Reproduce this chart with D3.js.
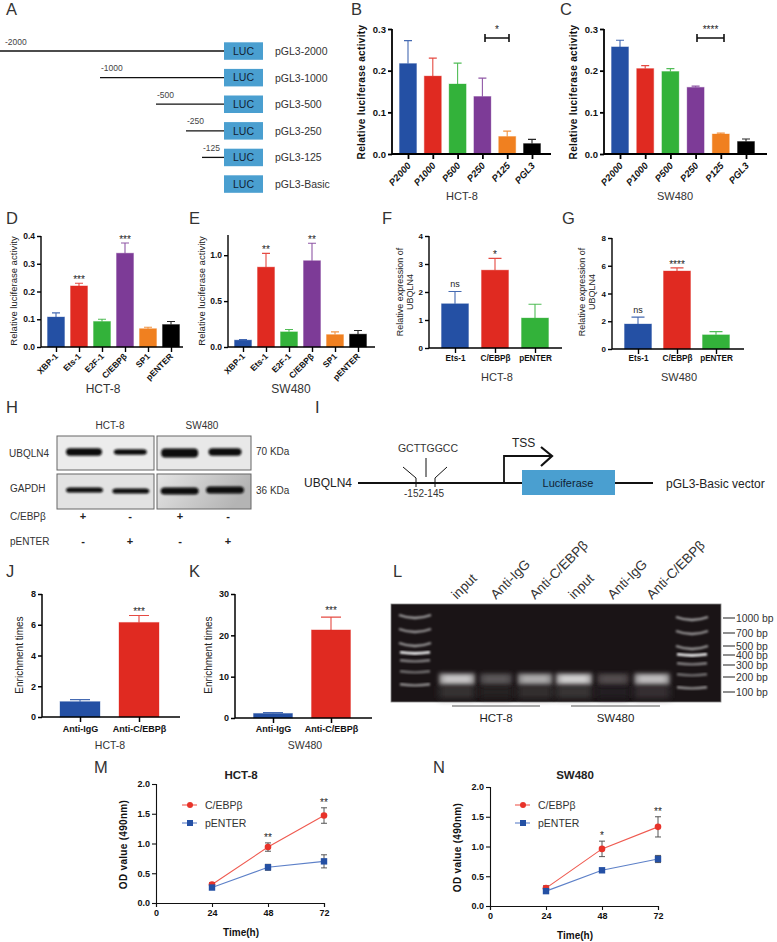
<!DOCTYPE html>
<html><head><meta charset="utf-8">
<script src="https://cdnjs.cloudflare.com/ajax/libs/d3/7.8.5/d3.min.js"></script>
<style>html,body{margin:0;padding:0;background:#fff}svg{display:block}text{font-family:"Liberation Sans",Arial,sans-serif}</style>
</head><body><div id="c"></div>
<script>
// ---- data ----
const promoterNames = ["pGL3-2000","pGL3-1000","pGL3-500","pGL3-250","pGL3-125","pGL3-Basic"];
const promoterLabels = ["-2000","-1000","-500","-250","-125",""];
const promoterLengths = [2000,1000,500,250,125,0];

const catsLuc = ["P2000","P1000","P500","P250","P125","PGL3"];
const bValues = [0.217,0.187,0.168,0.138,0.042,0.025];
const bTops   = [0.272,0.230,0.218,0.182,0.055,0.035];
const cValues = [0.257,0.205,0.198,0.160,0.048,0.030];
const cTops   = [0.273,0.212,0.205,0.163,0.050,0.036];

const catsTF = ["XBP-1","Ets-1","E2F-1","C/EBPβ","SP1","pENTER"];
const dValues = [0.108,0.220,0.092,0.338,0.066,0.081];
const dTops   = [0.123,0.230,0.100,0.375,0.071,0.092];
const dSig    = ["","***","","***","",""];
const eValues = [0.075,0.870,0.165,0.940,0.135,0.140];
const eTops   = [0.080,1.020,0.190,1.130,0.165,0.180];
const eSig    = ["","**","","**","",""];

const catsExpr = ["Ets-1","C/EBPβ","pENTER"];
const fValues = [1.58,2.78,1.07];
const fTops   = [2.02,3.20,1.56];
const fSig    = ["ns","*",""];
const gValues = [1.80,5.62,1.02];
const gTops   = [2.30,5.85,1.25];
const gSig    = ["ns","****",""];

const catsChip = ["Anti-IgG","Anti-C/EBPβ"];
const jValues = [1.0,6.15];
const jTops   = [1.13,6.60];
const kValues = [1.1,21.3];
const kTops   = [1.3,24.4];
const chipSig = ["","***"];

const barColors = ["#2450a4","#e02a21","#33b23a","#7d3b97","#f08020","#000000"];
const exprColors = ["#2450a4","#e02a21","#33b23a"];
const chipColors = ["#2450a4","#e02a21"];

const blotLanes = ["HCT-8 C/EBPβ","HCT-8 pENTER","SW480 C/EBPβ","SW480 pENTER"];
const ubqlnStrength = [0.85,0.62,1.00,0.85];
const gapdhStrength = [0.60,0.60,1.00,1.00];
const blotCebpb  = ["+","-","+","-"];
const blotPenter = ["-","+","-","+"];

const gelLanes = ["input","Anti-IgG","Anti-C/EBPβ","input","Anti-IgG","Anti-C/EBPβ"];
const gelBrightness = [0.95,0.36,0.80,1.0,0.30,0.90];
const ladderBp = [1000,700,500,400,300,200,100];
const ladderBrightness = [0.62,0.58,0.60,1.0,0.50,0.42,0.55];

const timePoints = [24,48,72];
const mCebpb = [0.31,0.94,1.47];
const mCebpbErr = [0.03,0.07,0.13];
const mPenter = [0.26,0.60,0.70];
const mPenterErr = [0.02,0.05,0.11];
const mSig = ["","**","**"];
const nCebpb = [0.30,0.96,1.33];
const nCebpbErr = [0.04,0.13,0.17];
const nPenter = [0.25,0.60,0.79];
const nPenterErr = [0.02,0.02,0.06];
const nSig = ["","*","**"];

// ---- canvas ----
const W=777,H=942;
const svg=d3.select("#c").append("svg").attr("width",W).attr("height",H).attr("viewBox",`0 0 ${W} ${H}`);
svg.append("rect").attr("width",W).attr("height",H).attr("fill","#fff");
const defs=svg.append("defs");
[["blur1",1.3],["blur2",2.2],["blur3",0.9],["blurS",0.8],["blurW",3.5]].forEach(([id,s])=>{
  defs.append("filter").attr("id",id).attr("x","-30%").attr("y","-150%").attr("width","160%").attr("height","400%")
    .append("feGaussianBlur").attr("stdDeviation",s);
});
const grad=defs.append("linearGradient").attr("id","blotGrad").attr("x1","0").attr("y1","0").attr("x2","1").attr("y2","0.3");
grad.append("stop").attr("offset","0").attr("stop-color","#e4e4e4");
grad.append("stop").attr("offset","1").attr("stop-color","#b4b4b4");
const root=svg.append("g");

function label(txt,x,y,o={}){
  const t=root.append("text").attr("x",x).attr("y",y).text(txt)
    .attr("font-size",o.size||11).attr("fill",o.fill||"#2a2a2a")
    .attr("text-anchor",o.anchor||"start");
  if(o.weight)t.attr("font-weight",o.weight);
  if(o.style)t.attr("font-style",o.style);
  if(o.rotate!==undefined)t.attr("transform",`rotate(${o.rotate} ${x} ${y})`);
  if(o.spacing)t.attr("letter-spacing",o.spacing);
  return t;
}

// panel letters
[["A",6,15],["B",351,15],["C",560,15],["D",6,224],["E",189,224],["F",382,224],["G",562,224],
 ["H",6,413],["I",315,413],["J",6,577],["K",189,577],["L",393,577],["M",94,773],["N",433,773]]
 .forEach(([s,x,y])=>label(s,x,y,{size:16.5,fill:"#333"}));

// ---- bar panels ----
function barPanel(cfg){
  const g=root.append("g");
  const x=d3.scalePoint().domain(cfg.cats).range(cfg.centers);
  const y=d3.scaleLinear().domain(cfg.domain).range([cfg.y0,cfg.y1]);
  const rows=cfg.cats.map((c,i)=>({c,v:cfg.values[i],t:cfg.tops[i],col:cfg.colors[i],s:cfg.sig?cfg.sig[i]:""}));
  g.selectAll("rect.bar").data(rows).join("rect").attr("class","bar")
    .attr("x",d=>x(d.c)-cfg.bw/2).attr("width",cfg.bw)
    .attr("y",d=>y(d.v)).attr("height",d=>y(0)-y(d.v)).attr("fill",d=>d.col)
    .attr("stroke",d=>d.col).attr("stroke-opacity",.35).attr("stroke-width",1);
  g.selectAll("path.err").data(rows).join("path").attr("class","err")
    .attr("d",d=>`M${x(d.c)},${y(d.v)}V${y(d.t)}M${x(d.c)-cfg.cap/2},${y(d.t)}H${x(d.c)+cfg.cap/2}`)
    .attr("stroke",d=>d.col).attr("stroke-width",1.1).attr("fill","none").attr("stroke-opacity",.85);
  const ya=d3.axisLeft(y).tickValues(cfg.ticks).tickFormat(cfg.fmt).tickSize(cfg.tick||4).tickPadding(2);
  const ag=g.append("g").attr("transform",`translate(${cfg.axisX},0)`).call(ya);
  ag.select(".domain").attr("stroke","#000").attr("stroke-width",cfg.sw||1.6).attr("d",`M0,${y(cfg.domain[1])}V${cfg.y0}`);
  ag.selectAll(".tick line").attr("stroke","#000").attr("stroke-width",cfg.sw||1.6);
  ag.selectAll("text").attr("font-size",cfg.tickSize||9.5).attr("font-weight","bold").attr("fill","#111");
  const xa=d3.axisBottom(x).tickSize(5).tickPadding(3);
  const bx=g.append("g").attr("transform",`translate(0,${cfg.y0})`).call(xa);
  bx.select(".domain").attr("stroke","#000").attr("stroke-width",cfg.sw||1.6).attr("d",`M${cfg.axisX},0H${cfg.axisEnd}`);
  bx.selectAll(".tick line").attr("stroke","#000").attr("stroke-width",cfg.sw||1.6);
  const xt=bx.selectAll("text").attr("font-size",cfg.catSize||8).attr("font-weight","bold").attr("fill","#111");
  if(cfg.catStyle)xt.attr("font-style",cfg.catStyle);
  if(cfg.catRot){
    xt.attr("text-anchor","end").attr("dy",0).attr("y",0)
      .attr("transform",`translate(${cfg.catDx===undefined?4:cfg.catDx},${cfg.catDy||9}) rotate(${cfg.catRot})`);
  }else{ xt.attr("y",cfg.catDy||10).attr("dy","0.7em"); }
  // significance
  g.selectAll("text.sig").data(rows.filter(d=>d.s)).join("text").attr("class","sig")
    .attr("x",d=>x(d.c)).attr("y",d=>y(d.t)-(d.s==="ns"?4:(cfg.sigGap||0)))
    .attr("text-anchor","middle").attr("font-size",d=>d.s==="ns"?9:10).attr("fill","#222").text(d=>d.s);
  // y title
  cfg.title.forEach((t,i)=>{
    const tx=cfg.titleX+i*10;
    const el=g.append("text").attr("transform",`translate(${tx},${cfg.titleY}) rotate(-90)`).attr("text-anchor","middle")
      .attr("font-size",cfg.titleSize||9.5).attr("fill","#222").text(t);
    if(cfg.titleBold)el.attr("font-weight","bold").attr("fill","#111");
    if(cfg.titleSpacing)el.attr("letter-spacing",cfg.titleSpacing);
  });
  return {x,y};
}
const f1=d3.format(".1f"),f0=d3.format("d");

barPanel({cats:catsLuc,values:bValues,tops:bTops,colors:barColors,centers:[408,532],bw:17,cap:8,domain:[0,0.3],y0:154,y1:29,ticks:[0,.1,.2,.3],fmt:f1,axisX:392,axisEnd:551,catRot:-48,catStyle:"italic",catSize:9.5,catDy:12,catDx:3,title:["Relative luciferase activity"],titleX:365,titleY:92,titleBold:true,titleSize:10,titleSpacing:.35,sw:1.8,tickSize:9.5});
barPanel({cats:catsLuc,values:cValues,tops:cTops,colors:barColors,centers:[620,746],bw:17,cap:8,domain:[0,0.3],y0:154,y1:29,ticks:[0,.1,.2,.3],fmt:f1,axisX:604,axisEnd:767,catRot:-48,catStyle:"italic",catSize:9.5,catDy:12,catDx:3,title:["Relative luciferase activity"],titleX:577,titleY:92,titleBold:true,titleSize:10,titleSpacing:.35,sw:1.8,tickSize:9.5});
[[485,509,"*"],[697,724,"****"]].forEach(([a,b,s])=>{
  root.append("path").attr("d",`M${a},38H${b}M${a},34V42M${b},34V42`).attr("stroke","#111").attr("stroke-width",1.6).attr("fill","none");
  label(s,(a+b)/2,33,{size:10,anchor:"middle",fill:"#222"});
});
label("HCT-8",462,200,{size:11,anchor:"middle",fill:"#333"});
label("SW480",675,200,{size:11,anchor:"middle",fill:"#333"});

barPanel({cats:catsTF,values:dValues,tops:dTops,sig:dSig,colors:barColors,centers:[56,171],bw:17,cap:8,domain:[0,0.4],y0:347,y1:236,ticks:[0,.1,.2,.3,.4],fmt:f1,axisX:41,axisEnd:183,catRot:-45,catSize:8.5,catDy:10,catDx:2,title:["Relative luciferase activity"],titleX:17,titleY:291,sw:1.4,tickSize:8.5});
barPanel({cats:catsTF,values:eValues,tops:eTops,sig:eSig,colors:barColors,centers:[243,358],bw:17,cap:8,domain:[0,1.22],y0:347,y1:235,ticks:[0,.5,1],fmt:f1,axisX:228,axisEnd:375,catRot:-45,catSize:8.5,catDy:10,catDx:2,title:["Relative luciferase activity"],titleX:205,titleY:291,sw:1.4,tickSize:8.5});
barPanel({cats:catsExpr,values:fValues,tops:fTops,sig:fSig,colors:exprColors,centers:[455,535],bw:27,cap:13,domain:[0,4],y0:348,y1:236,ticks:[0,1,2,3,4],fmt:f0,axisX:429,axisEnd:562,catSize:8.2,catDy:7,title:["Relative expression of","UBQLN4"],titleX:403,titleY:292,titleSize:9,sw:1.4,tickSize:8});
barPanel({cats:catsExpr,values:gValues,tops:gTops,sig:gSig,colors:exprColors,centers:[638,716],bw:27,cap:13,domain:[0,8],y0:349,y1:238,ticks:[0,2,4,6,8],fmt:f0,axisX:612,axisEnd:744,catSize:8.2,catDy:6,title:["Relative expression of","UBQLN4"],titleX:585,titleY:292,titleSize:9,sw:1.4,tickSize:8});
[["HCT-8",497],["SW480",679]].forEach(([s,x])=>label(s,x,381,{size:11,anchor:"middle",fill:"#333"}));
[["HCT-8",103],["SW480",291]].forEach(([s,x])=>label(s,x,393,{size:12,anchor:"middle",fill:"#333"}));

barPanel({cats:catsChip,values:jValues,tops:jTops,sig:chipSig,colors:chipColors,centers:[80,139],bw:40,cap:20,domain:[0,8],y0:717,y1:594,ticks:[0,2,4,6,8],fmt:f0,axisX:42,axisEnd:180,catSize:9,catDy:9,title:["Enrichment times"],titleX:23,titleY:655,titleSize:10,sigGap:1,sw:1.5,tickSize:9});
barPanel({cats:catsChip,values:kValues,tops:kTops,sig:chipSig,colors:chipColors,centers:[273,331],bw:39,cap:20,domain:[0,30],y0:718,y1:594,ticks:[0,10,20,30],fmt:f0,axisX:235,axisEnd:372,catSize:9,catDy:8,title:["Enrichment times"],titleX:212,titleY:655,titleSize:10,sigGap:3,sw:1.5,tickSize:9});
[["HCT-8",110],["SW480",305]].forEach(([s,x])=>label(s,x,749,{size:10.5,anchor:"middle",fill:"#333"}));

// ---- A schematic ----
const rowY=d3.scalePoint().domain(promoterNames).range([51,184]);
const lenPos=d3.scaleLinear().domain([0,125,250,500,1000,2000]).range([224,202,186,156,100,0]);
const luc="#4a9fd0";
promoterNames.forEach((n,i)=>{
  const y=rowY(n);
  if(promoterLengths[i]>0){
    root.append("line").attr("x1",lenPos(promoterLengths[i])).attr("x2",224).attr("y1",y).attr("y2",y).attr("stroke","#111").attr("stroke-width",1.3);
    label(promoterLabels[i],lenPos(promoterLengths[i])+(i===0?5:1),y-6.5,{size:8.5,fill:"#444"});
  }
  root.append("rect").attr("x",224).attr("width",39).attr("y",y-8.7).attr("height",17.5).attr("fill",luc);
  label("LUC",243.5,y+3.8,{size:10.5,anchor:"middle",fill:"#123"});
  label(n,275,y+4,{size:10.5,fill:"#333"});
});

// ---- H blot ----
const blotCols=[[57,154],[157,251]];
const blotRows=[{y:[436,470],bg:["#ececec","#e8e8e8"]},{y:[474,509],bg:["#e2e2e2","url(#blotGrad)"]}];
blotRows.forEach(r=>blotCols.forEach((c,j)=>{
  root.append("rect").attr("x",c[0]).attr("y",r.y[0]).attr("width",c[1]-c[0]).attr("height",r.y[1]-r.y[0])
    .attr("fill",r.bg[j]).attr("stroke","#666").attr("stroke-width",1);
}));
const laneX=d3.scalePoint().domain(blotLanes).range([84,226]);
const bandOffset=[0,-1,1,-1];
const bandW=[36,33,37,33];
const bandY1=[452,452,453,452], bandY2=[490,491,491,490];
const signX=[83,130,180,228];
blotLanes.forEach((l,i)=>{
  const cx=laneX(l)+bandOffset[i];
  const h1=1.5+ubqlnStrength[i]*ubqlnStrength[i]*3;
  root.append("rect").attr("x",cx-bandW[i]/2).attr("width",bandW[i]).attr("y",bandY1[i]-h1).attr("height",2*h1)
    .attr("rx",4).attr("fill","#0d0d0d").attr("filter","url(#blurS)");
  const h2=1.3+gapdhStrength[i]*2.2;
  root.append("rect").attr("x",cx-(i<2?18:19)).attr("width",i<2?37:38).attr("y",bandY2[i]-h2).attr("height",2*h2)
    .attr("rx",4).attr("fill","#0d0d0d").attr("filter","url(#blurS)");
  label(blotCebpb[i],signX[i],520,{size:11,anchor:"middle",weight:"bold",fill:"#222"});
  label(blotPenter[i],signX[i],545,{size:11,anchor:"middle",weight:"bold",fill:"#222"});
});
label("HCT-8",110,429,{size:10,anchor:"middle",fill:"#333"});
label("SW480",202,429,{size:10,anchor:"middle",fill:"#333"});
label("UBQLN4",9,457,{size:10,fill:"#333"});
label("GAPDH",10,492,{size:10,fill:"#333"});
label("70 KDa",256,455,{size:10,fill:"#333"});
label("36 KDa",256,494,{size:10,fill:"#333"});
label("C/EBPβ",10,520,{size:10,fill:"#333"});
label("pENTER",10,545,{size:10,fill:"#333"});

// ---- I schematic ----
const iLine=(d,w)=>root.append("path").attr("d",d).attr("fill","none").attr("stroke","#111").attr("stroke-width",w);
iLine("M358,483H653",1.8);
root.append("rect").attr("x",522).attr("y",470).attr("width",93).attr("height",25).attr("fill",luc);
iLine("M504,483V456H552",1.8);
iLine("M541,447L552,456L541,466",2.2);
iLine("M403,467L416,478V487",1);
iLine("M447,467L435,478V487",1);
iLine("M426,458V477",1);
label("Luciferase",568,487,{size:11,anchor:"middle",fill:"#123"});
label("TSS",512,447,{size:12,fill:"#222"});
label("GCTTGGCC",428,452,{size:10.5,anchor:"middle",fill:"#333"});
label("-152-145",424,497,{size:10,anchor:"middle",fill:"#333"});
label("UBQLN4",304,487,{size:12,fill:"#222"});
label("pGL3-Basic vector",666,488,{size:12,fill:"#222"});

// ---- L gel ----
const gelBg="#1a1416";
const gelX=d3.scalePoint().domain(d3.range(6)).range([457,652]);
const gel=root.append("g");
gel.append("rect").attr("x",391).attr("y",604).attr("width",330).attr("height",98).attr("fill",gelBg).attr("stroke","#888").attr("stroke-width",.8);
const ladL=d3.scaleLinear().domain(ladderBp).range([617,631,645,653,661,672,685]);
const ladR=d3.scaleLinear().domain(ladderBp).range([619,633,648,655,664,675,688]);
[[415,ladL],[692,ladR]].forEach(([cx,s])=>{
  ladderBp.forEach((bp,i)=>{
    const b=ladderBrightness[i],y=s(bp),hw=i<3?16:15,cv=i<3?4:1.5;
    gel.append("path").attr("d",`M${cx-hw},${y-cv/2}Q${cx},${y+cv} ${cx+hw},${y-cv/2}`)
      .attr("fill","none").attr("stroke",d3.interpolateRgb(gelBg,"#f6f6f6")(b)).attr("stroke-width",i===3?2.6:2.4).attr("filter","url(#blurS)");
  });
});
gelLanes.forEach((l,i)=>{
  const b=gelBrightness[i],cx=gelX(i),w=15+b*3;
  gel.append("rect").attr("x",cx-w).attr("width",2*w).attr("y",686).attr("height",12).attr("fill",d3.interpolateRgb(gelBg,"#777")(b*.35)).attr("filter","url(#blurW)");
  gel.append("rect").attr("x",cx-w).attr("width",2*w).attr("y",673.5).attr("height",11).attr("fill",d3.interpolateRgb(gelBg,"#dcdcdc")(b*.75)).attr("filter","url(#blur2)");
  gel.append("rect").attr("x",cx-w+5).attr("width",2*w-10).attr("y",676.5).attr("height",5).attr("fill",d3.interpolateRgb(gelBg,"#f4f4f4")(b*.88)).attr("filter","url(#blur2)");
  label(l,cx,600,{size:13.5,fill:"#333",rotate:-45});
});
const ladderY=d3.scaleLinear().domain(ladderBp).range([618,633,646,655,665,677,692]);
ladderBp.forEach(bp=>{
  root.append("line").attr("x1",723).attr("x2",735).attr("y1",ladderY(bp)).attr("y2",ladderY(bp)).attr("stroke","#333").attr("stroke-width",1.1);
  label(bp+" bp",736,ladderY(bp)+3.5,{size:10.4,fill:"#333"});
});
[[452,540,"HCT-8"],[571,660,"SW480"]].forEach(([a,b,s])=>{
  root.append("line").attr("x1",a).attr("x2",b).attr("y1",706).attr("y2",706).attr("stroke","#555").attr("stroke-width",1.2);
  label(s,(a+b)/2,722,{size:11.5,anchor:"middle",fill:"#222"});
});

// ---- M, N ----
function growth(cfg){
  const g=root.append("g");
  const x=d3.scaleLinear().domain([0,72]).range([cfg.x0,cfg.x1]);
  const y=d3.scaleLinear().domain([0,2]).range([cfg.y0,cfg.y1]);
  const ya=d3.axisLeft(y).tickValues([0,.5,1,1.5,2]).tickFormat(f1).tickSize(4).tickPadding(2);
  const ag=g.append("g").attr("transform",`translate(${cfg.x0},0)`).call(ya);
  const xa=d3.axisBottom(x).tickValues([0,...timePoints]).tickFormat(f0).tickSize(4).tickPadding(3);
  const bg=g.append("g").attr("transform",`translate(0,${cfg.y0})`).call(xa);
  [ag,bg].forEach(a=>{
    a.select(".domain").attr("stroke","#111").attr("stroke-width",1.1);
    a.selectAll(".tick line").attr("stroke","#111").attr("stroke-width",1.1);
    a.selectAll("text").attr("font-size",9).attr("font-weight","bold").attr("fill","#111");
  });
  const line=d3.line().x((d,i)=>x(timePoints[i])).y(d=>y(d));
  [[cfg.a,cfg.aErr,"#e8332a",false],[cfg.b,cfg.bErr,"#2450a4",true]].forEach(([vals,errs,col,sq])=>{
    g.append("path").attr("d",line(vals)).attr("fill","none").attr("stroke",sq?"#5d80c8":"#ef5a50").attr("stroke-width",1.1);
    vals.forEach((v,i)=>{
      const px=x(timePoints[i]);
      g.append("path").attr("d",`M${px},${y(v-errs[i])}V${y(v+errs[i])}M${px-3},${y(v-errs[i])}H${px+3}M${px-3},${y(v+errs[i])}H${px+3}`)
        .attr("stroke","#444").attr("stroke-width",.9).attr("fill","none");
    });
    g.selectAll(null).data(vals).join(sq?"rect":"circle").each(function(v,i){
      const m=d3.select(this),px=x(timePoints[i]),py=y(v);
      if(sq)m.attr("x",px-3.2).attr("y",py-3.2).attr("width",6.4).attr("height",6.4).attr("fill",col);
      else m.attr("cx",px).attr("cy",py).attr("r",3.3).attr("fill",col);
    });
  });
  cfg.sig.forEach((s,i)=>{ if(s){
    const top=y(Math.max(cfg.a[i]+cfg.aErr[i],cfg.b[i]+cfg.bErr[i]));
    g.append("text").attr("x",x(timePoints[i])).attr("y",top-2).attr("text-anchor","middle").attr("font-size",10).attr("fill","#222").text(s);
  }});
  // legend
  const lx=cfg.lx;
  [["C/EBPβ",cfg.ly,"#ef5a50","#e8332a",false],["pENTER",cfg.ly+18,"#5d80c8","#2450a4",true]].forEach(([t,ly,lc,mc,sq])=>{
    g.append("line").attr("x1",lx-8).attr("x2",lx+7).attr("y1",ly).attr("y2",ly).attr("stroke",lc).attr("stroke-width",1.1);
    if(sq)g.append("rect").attr("x",lx-3).attr("y",ly-3).attr("width",6).attr("height",6).attr("fill",mc);
    else g.append("circle").attr("cx",lx).attr("cy",ly).attr("r",3).attr("fill",mc);
    g.append("text").attr("x",lx+15).attr("y",ly+4).attr("font-size",10.5).attr("fill","#333").text(t);
  });
  g.append("text").attr("x",(cfg.x0+cfg.x1)/2+1).attr("y",cfg.titleY).attr("text-anchor","middle").attr("font-size",11.5).attr("font-weight","bold").attr("fill","#222").text(cfg.title);
  g.append("text").attr("x",(cfg.x0+cfg.x1)/2+1).attr("y",cfg.y0+33).attr("text-anchor","middle").attr("font-size",10).attr("font-weight","bold").attr("fill","#111").text("Time(h)");
  g.append("text").attr("transform",`translate(${cfg.x0-29},${(cfg.y0+cfg.y1)/2+1}) rotate(-90)`).attr("text-anchor","middle").attr("font-size",10).attr("font-weight","bold").attr("fill","#111").attr("letter-spacing",.3).text("OD value (490nm)");
}
growth({x0:156,x1:324,y0:903,y1:784,a:mCebpb,aErr:mCebpbErr,b:mPenter,bErr:mPenterErr,sig:mSig,lx:190,ly:805,title:"HCT-8",titleY:779});
growth({x0:490,x1:658,y0:906,y1:787,a:nCebpb,aErr:nCebpbErr,b:nPenter,bErr:nPenterErr,sig:nSig,lx:523,ly:805,title:"SW480",titleY:779});
</script>
</body></html>
